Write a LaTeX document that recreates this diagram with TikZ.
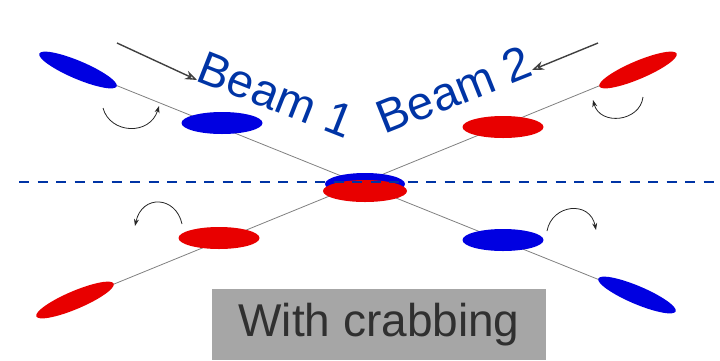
\documentclass[tikz,border=0pt]{standalone}
\usepackage{fontspec}
\setmainfont{Liberation Sans}
\usetikzlibrary{shapes.geometric,arrows.meta}
\definecolor{beamblue}{RGB}{0,52,165}
\definecolor{bunchblue}{RGB}{0,0,225}
\definecolor{bunchred}{RGB}{232,0,0}
\definecolor{boxgray}{RGB}{166,166,166}
\definecolor{captiongray}{RGB}{48,48,48}
\tikzset{
  orbit/.style={draw=black!50, line width=0.8pt},
  bunch/.style={ellipse, inner sep=0pt, minimum width=84pt, minimum height=18pt},
  flatbunch/.style={ellipse, inner sep=0pt, minimum width=81pt, minimum height=22pt},
  beamlabel/.style={text=beamblue, inner sep=0pt, font=\fontsize{47}{52}\selectfont},
  feedarrow/.style={draw=black!75, line width=1.4pt, -{Stealth[length=12pt,width=9pt,open]}},
  kick/.style={draw=black!85, line width=0.8pt, -{Stealth[length=7pt,width=5pt]}},
}
\begin{document}
\begin{tikzpicture}[x=1pt,y=-1pt]
\useasboundingbox (0,0) rectangle (720,360);

% beam orbits
\coordinate (b1s) at (78,70);
\coordinate (b1e) at (637,295);
\coordinate (b2s) at (638,70);
\coordinate (b2e) at (75,300);
\draw[orbit] (b1s) -- (b1e);
\draw[orbit] (b2s) -- (b2e);

% bunches far from the crossing point (tilted)
\node[bunch, fill=bunchblue, rotate=-23] (tl) at (78,70) {};
\node[bunch, fill=bunchred,  rotate=23]  (tr) at (638,70) {};
\node[bunch, fill=bunchred,  rotate=23]  (bl) at (75,300) {};
\node[bunch, fill=bunchblue, rotate=-23] (br) at (637,295) {};

% bunches near the crossing point (flat)
\node[flatbunch, fill=bunchblue] (ml) at (222,123) {};
\node[flatbunch, fill=bunchred]  (mr) at (503,127) {};
\node[flatbunch, fill=bunchred]  (nl) at (219,238) {};
\node[flatbunch, fill=bunchblue] (nr) at (503,240) {};

% overlapping bunches at the interaction point
\node[ellipse, inner sep=0pt, minimum width=80pt, minimum height=22pt, fill=bunchblue] (ipb) at (365,184) {};
\node[ellipse, inner sep=0pt, minimum width=84pt, minimum height=22pt, fill=bunchred] (ipr) at (365,191) {};

% horizontal axis
\coordinate (axl) at (19,182);
\coordinate (axr) at (720,182);
\draw[beamblue, line width=2.8pt, dash pattern=on 10pt off 8.5pt] (axl) -- (axr);

% direction arrows
\coordinate (a1s) at (117,43);
\coordinate (a1e) at (197,80);
\coordinate (a2s) at (598,43);
\coordinate (a2e) at (532,70);
\draw[feedarrow] (a1s) -- (a1e);
\draw[feedarrow] (a2s) -- (a2e);

% crab rotation arrows
\coordinate (k1s) at (103,108); \coordinate (k1e) at (159,106);
\coordinate (k2s) at (643,97);  \coordinate (k2e) at (593,100);
\coordinate (k3s) at (182,224); \coordinate (k3e) at (135,226);
\coordinate (k4s) at (547,231); \coordinate (k4e) at (596,230);
\draw[kick] (k1s) .. controls (110,134) and (150,136) .. (k1e);
\draw[kick] (k2s) .. controls (640,122) and (600,126) .. (k2e);
\draw[kick] (k3s) .. controls (176,196) and (142,194) .. (k3e);
\draw[kick] (k4s) .. controls (552,204) and (590,200) .. (k4e);

% beam labels
\node[beamlabel, rotate=-21.5] (lab1) at (276,95) {Beam 1};
\node[beamlabel, rotate=21.7]  (lab2) at (454,90) {Beam 2};

% caption
\node[fill=boxgray, text=captiongray, inner sep=0pt, minimum width=334pt, minimum height=71pt,
      font=\fontsize{46}{52}\selectfont] (cap) at (379,324.5) {With crabbing};
\end{tikzpicture}
\end{document}
